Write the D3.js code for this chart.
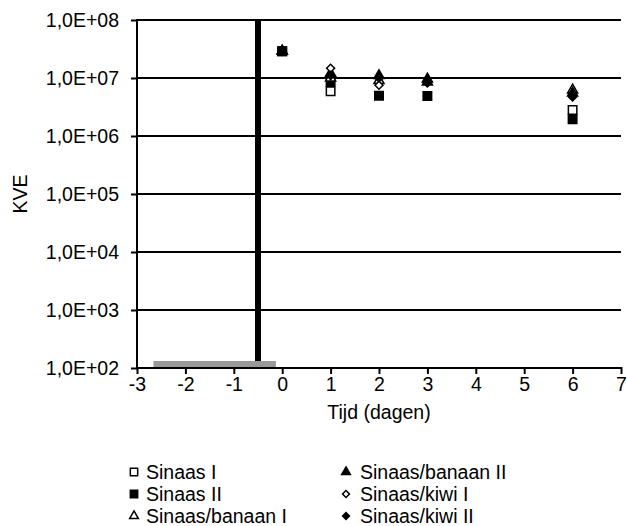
<!DOCTYPE html>
<html>
<head>
<meta charset="utf-8">
<script src="https://cdn.jsdelivr.net/npm/d3@7"></script>
<style>
  body { margin: 0; background: #fff; }
  text { font-family: "Liberation Sans", Arial, sans-serif; }
</style>
</head>
<body>
<svg id="chart"></svg>
<script>
// values
const days = [0, 1, 2, 3, 6];
const sinaasI = [2.9e7, 5.9e6, null, null, 2.8e6];
const sinaasII = [2.9e7, 8.5e6, 4.95e6, 4.9e6, 1.95e6];
const banaanI = [2.9e7, 1.0e7, 9.0e6, 8.5e6, 6.2e6];
const banaanII = [2.9e7, 1.2e7, 1.1e7, 9.6e6, 5.5e6];
const kiwiI = [2.9e7, 1.47e7, 7.5e6, 8.5e6, 5.0e6];
const kiwiII = [2.9e7, 1.1e7, 1.0e7, 8.2e6, 4.7e6];

const seriesNames = ["Sinaas I", "Sinaas II", "Sinaas/banaan I", "Sinaas/banaan II", "Sinaas/kiwi I", "Sinaas/kiwi II"];
const seriesValues = [sinaasI, sinaasII, banaanI, banaanII, kiwiI, kiwiII];
const seriesShapes = ["square", "square", "triangle", "triangle", "diamond", "diamond"];
const seriesFilled = [false, true, false, true, false, true];

// the odd bars left of day 0
const blackBarDay = -0.5;
const greyBarDays = [-2.66, -0.13];

const xTicks = [-3, -2, -1, 0, 1, 2, 3, 4, 5, 6, 7];
const yTicks = [1e2, 1e3, 1e4, 1e5, 1e6, 1e7, 1e8];

const width = 627, height = 526;
const svg = d3.select("#chart").attr("width", width).attr("height", height);

const x = d3.scaleLinear().domain([-3, 7]).range([137, 621]);
const y = d3.scaleLog().domain([1e2, 1e8]).range([368, 20]);

const fmt = v => "1,0E+" + String(Math.round(Math.log10(v))).padStart(2, "0");
const fs = "19.5px";

// horizontal gridlines
svg.append("g")
    .selectAll("line")
    .data(yTicks.slice(1))
    .join("line")
    .attr("x1", x(-3)).attr("x2", x(7))
    .attr("y1", d => y(d)).attr("y2", d => y(d))
    .attr("stroke", "#000").attr("stroke-width", 2);

// bars
svg.append("rect")
    .attr("x", x(greyBarDays[0]))
    .attr("width", x(greyBarDays[1]) - x(greyBarDays[0]))
    .attr("y", y(1e2) - 7)
    .attr("height", 7)
    .attr("fill", "#999");

svg.append("rect")
    .attr("x", x(blackBarDay) - 3)
    .attr("width", 6)
    .attr("y", y(1e8))
    .attr("height", y(1e2) - 7 - y(1e8))
    .attr("fill", "#000");

// axes
const yAxis = svg.append("g")
    .attr("transform", `translate(${x(-3)},0)`)
    .call(d3.axisLeft(y).tickValues(yTicks).tickFormat(fmt).tickSize(6).tickPadding(12));

const xAxis = svg.append("g")
    .attr("transform", `translate(0,${y(1e2)})`)
    .call(d3.axisBottom(x).tickValues(xTicks).tickFormat(d => String(d)).tickSize(6).tickPadding(3));

[yAxis, xAxis].forEach(g => {
    g.select(".domain").attr("stroke", "#000").attr("stroke-width", 2);
    g.selectAll(".tick line").attr("stroke", "#000").attr("stroke-width", 2);
    g.selectAll(".tick text").attr("fill", "#000").style("font-size", fs);
});
xAxis.select(".domain").attr("d", `M${x(-3) - 1},0H${x(7)}`);
xAxis.selectAll(".tick line").attr("y1", -1);
yAxis.select(".domain").attr("d", `M0,${y(1e2)}V${y(1e8) - 1}`);

svg.append("text")
    .attr("x", (x(-3) + x(7)) / 2)
    .attr("y", 419)
    .attr("text-anchor", "middle")
    .style("font-size", fs)
    .text("Tijd (dagen)");

svg.append("text")
    .attr("transform", `translate(27,${(y(1e2) + y(1e8)) / 2}) rotate(-90)`)
    .attr("text-anchor", "middle")
    .style("font-size", fs)
    .text("KVE");

// markers
const markerPath = (shape, k) => {
    if (shape === "square") return d3.symbol().type(d3.symbolSquare).size(72 * k)();
    if (shape === "triangle") return d3.symbol().type(d3.symbolTriangle).size(44 * k)();
    return d3.symbol().type(d3.symbolSquare).size(32 * k)();
};
const markerRot = shape => shape === "diamond" ? " rotate(45)" : "";

seriesValues.forEach((vals, i) => {
    const pts = days.map((d, j) => ({day: d, v: vals[j]})).filter(p => p.v != null);
    svg.append("g")
        .selectAll("path")
        .data(pts)
        .join("path")
        .attr("transform", p => `translate(${x(p.day)},${y(p.v)})` + markerRot(seriesShapes[i]))
        .attr("d", markerPath(seriesShapes[i], 1))
        .attr("fill", seriesFilled[i] ? "#000" : "#fff")
        .attr("stroke", "#000")
        .attr("stroke-width", 1.5);
});

// legend
const legend = svg.append("g");
seriesNames.forEach((name, i) => {
    const col = Math.floor(i / 3), row = i % 3;
    const lx = col === 0 ? 134 : 346, ly = 479 + row * 22;
    legend.append("path")
        .attr("transform", `translate(${lx},${ly - 7})` + markerRot(seriesShapes[i]))
        .attr("d", markerPath(seriesShapes[i], 0.75))
        .attr("fill", seriesFilled[i] ? "#000" : "#fff")
        .attr("stroke", "#000")
        .attr("stroke-width", 1.5);
    legend.append("text")
        .attr("x", col === 0 ? 146 : 360)
        .attr("y", ly)
        .style("font-size", fs)
        .text(name);
});
</script>
</body>
</html>
